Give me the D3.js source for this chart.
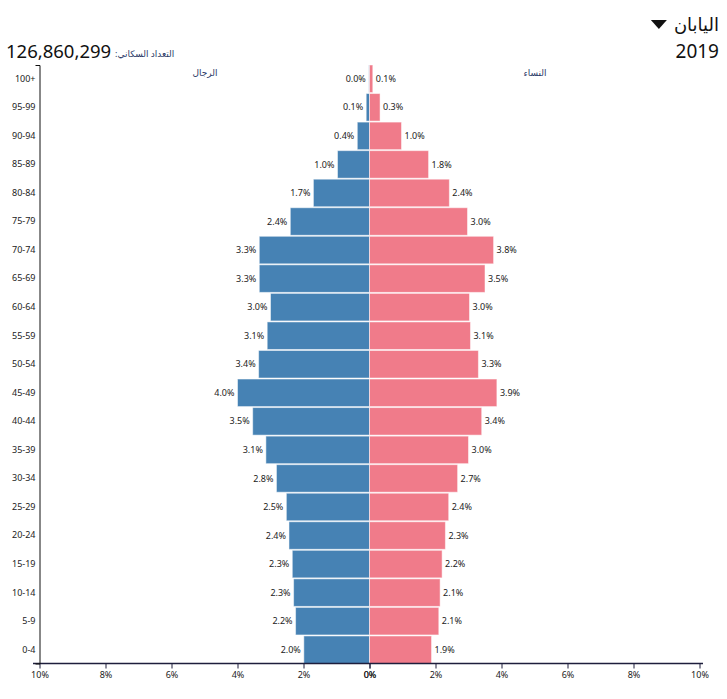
<!DOCTYPE html>
<html>
<head>
<meta charset="utf-8">
<script src="https://cdn.jsdelivr.net/npm/d3@7"></script>
<style>
  body { margin: 0; background: #fff; }
  svg { font-family: "Noto Sans", "DejaVu Sans", sans-serif; }
</style>
</head>
<body>
<svg id="chart" width="727" height="699"></svg>
<script>
const ageGroups = ["100+","95-99","90-94","85-89","80-84","75-79","70-74","65-69","60-64","55-59","50-54","45-49","40-44","35-39","30-34","25-29","20-24","15-19","10-14","5-9","0-4"];
const maleValues = [0.02,0.1,0.37,0.97,1.7,2.4,3.34,3.34,3.0,3.1,3.36,4.0,3.54,3.14,2.82,2.52,2.44,2.34,2.3,2.24,1.99];
const femaleValues = [0.1,0.32,0.97,1.79,2.42,2.97,3.76,3.5,3.03,3.06,3.3,3.86,3.4,3.0,2.67,2.4,2.3,2.2,2.14,2.1,1.88];
const xTicks = [0,2,4,6,8,10];
const country = "اليابان";
const year = "2019";
const population = "126,860,299";
const populationLabel = "التعداد السكاني:";
const maleLabel = "الرجال";
const femaleLabel = "النساء";

(function () {
const svg = d3.select("#chart");
const center = 369.5, leftX = 39.5, rightX = 699.5, topY = 65, bottomY = 663.5;

const xMale = d3.scaleLinear().domain([10, 0]).range([leftX, center]);
const xFemale = d3.scaleLinear().domain([0, 10]).range([center, rightX]);
const y = d3.scaleBand().domain(ageGroups).range([topY, bottomY]).paddingInner(0.035).paddingOuter(0.0);

const maleColor = "#4682b4", femaleColor = "#f07b8a";

svg.append("g").selectAll("rect").data(ageGroups).join("rect")
  .attr("x", (d,i) => xMale(maleValues[i]))
  .attr("y", d => y(d))
  .attr("width", (d,i) => center - xMale(maleValues[i]))
  .attr("height", y.bandwidth())
  .attr("fill", maleColor)
  .attr("stroke", "rgba(255,255,255,0.5)").attr("stroke-width", 1);

svg.append("g").selectAll("rect").data(ageGroups).join("rect")
  .attr("x", center)
  .attr("y", d => y(d))
  .attr("width", (d,i) => xFemale(femaleValues[i]) - center)
  .attr("height", y.bandwidth())
  .attr("fill", femaleColor)
  .attr("stroke", "rgba(255,255,255,0.5)").attr("stroke-width", 1);

svg.append("g").selectAll("text").data(ageGroups).join("text")
  .attr("x", (d,i) => xMale(maleValues[i]) - 3)
  .attr("y", d => y(d) + y.bandwidth()/2)
  .attr("dy", "0.35em")
  .attr("text-anchor", "end")
  .attr("font-size", 9).attr("fill", "#222")
  .text((d,i) => maleValues[i].toFixed(1) + "%");

svg.append("g").selectAll("text").data(ageGroups).join("text")
  .attr("x", (d,i) => xFemale(femaleValues[i]) + 3)
  .attr("y", d => y(d) + y.bandwidth()/2)
  .attr("dy", "0.35em")
  .attr("text-anchor", "start")
  .attr("font-size", 9).attr("fill", "#222")
  .text((d,i) => femaleValues[i].toFixed(1) + "%");

const axisColor = "#1e1e3c";
svg.append("line").attr("x1", 33).attr("x2", 703).attr("y1", bottomY).attr("y2", bottomY)
  .attr("stroke", axisColor).attr("stroke-width", 1.5);

function styleAxis(g) {
  g.select(".domain").remove();
  g.selectAll(".tick line").attr("stroke", axisColor);
  g.selectAll(".tick text").attr("font-size", 9).attr("fill", "#222").attr("font-family", "Noto Sans, DejaVu Sans, sans-serif");
}
svg.append("g").attr("transform", `translate(0,${bottomY})`)
  .call(d3.axisBottom(xMale).tickValues(xTicks).tickSize(5).tickPadding(3).tickFormat(d => d + "%"))
  .call(styleAxis);
svg.append("g").attr("transform", `translate(0,${bottomY})`)
  .call(d3.axisBottom(xFemale).tickValues(xTicks).tickSize(5).tickPadding(3).tickFormat(d => d + "%"))
  .call(styleAxis);

const yAxisG = svg.append("g").attr("transform", `translate(${leftX},0)`)
  .call(d3.axisLeft(y).tickSizeInner(0).tickSizeOuter(4).tickPadding(4));
yAxisG.select(".domain").attr("stroke", "#111");
yAxisG.selectAll(".tick text").attr("font-size", 9).attr("fill", "#222").attr("font-family", "Noto Sans, DejaVu Sans, sans-serif");

svg.append("text").attr("x", 205).attr("y", 76).attr("text-anchor", "middle")
  .attr("font-size", 9).attr("fill", "#2b3a67").text(maleLabel);
svg.append("text").attr("x", 535).attr("y", 76).attr("text-anchor", "middle")
  .attr("font-size", 9).attr("fill", "#2b3a67").text(femaleLabel);

svg.append("text").attr("x", 6).attr("y", 58).attr("font-size", 18.5).attr("fill", "#111").text(population);
svg.append("text").attr("x", 115).attr("y", 57).attr("font-size", 9).attr("fill", "#2b3a67")
  .attr("text-anchor", "start").style("unicode-bidi", "plaintext")
  .text(populationLabel);
const countryText = svg.append("text").attr("x", 719).attr("y", 31).attr("text-anchor", "end").attr("font-size", 18).attr("fill", "#111")
  .text(country);
const cw = countryText.node().getComputedTextLength();
const tx = 719 - cw - 7;
svg.append("path").attr("d", `M${tx-16},20 L${tx},20 L${tx-8},29 Z`).attr("fill", "#111");
svg.append("text").attr("x", 719).attr("y", 58).attr("text-anchor", "end").attr("font-size", 19).attr("fill", "#111")
  .text(year);
})();
</script>
</body>
</html>
